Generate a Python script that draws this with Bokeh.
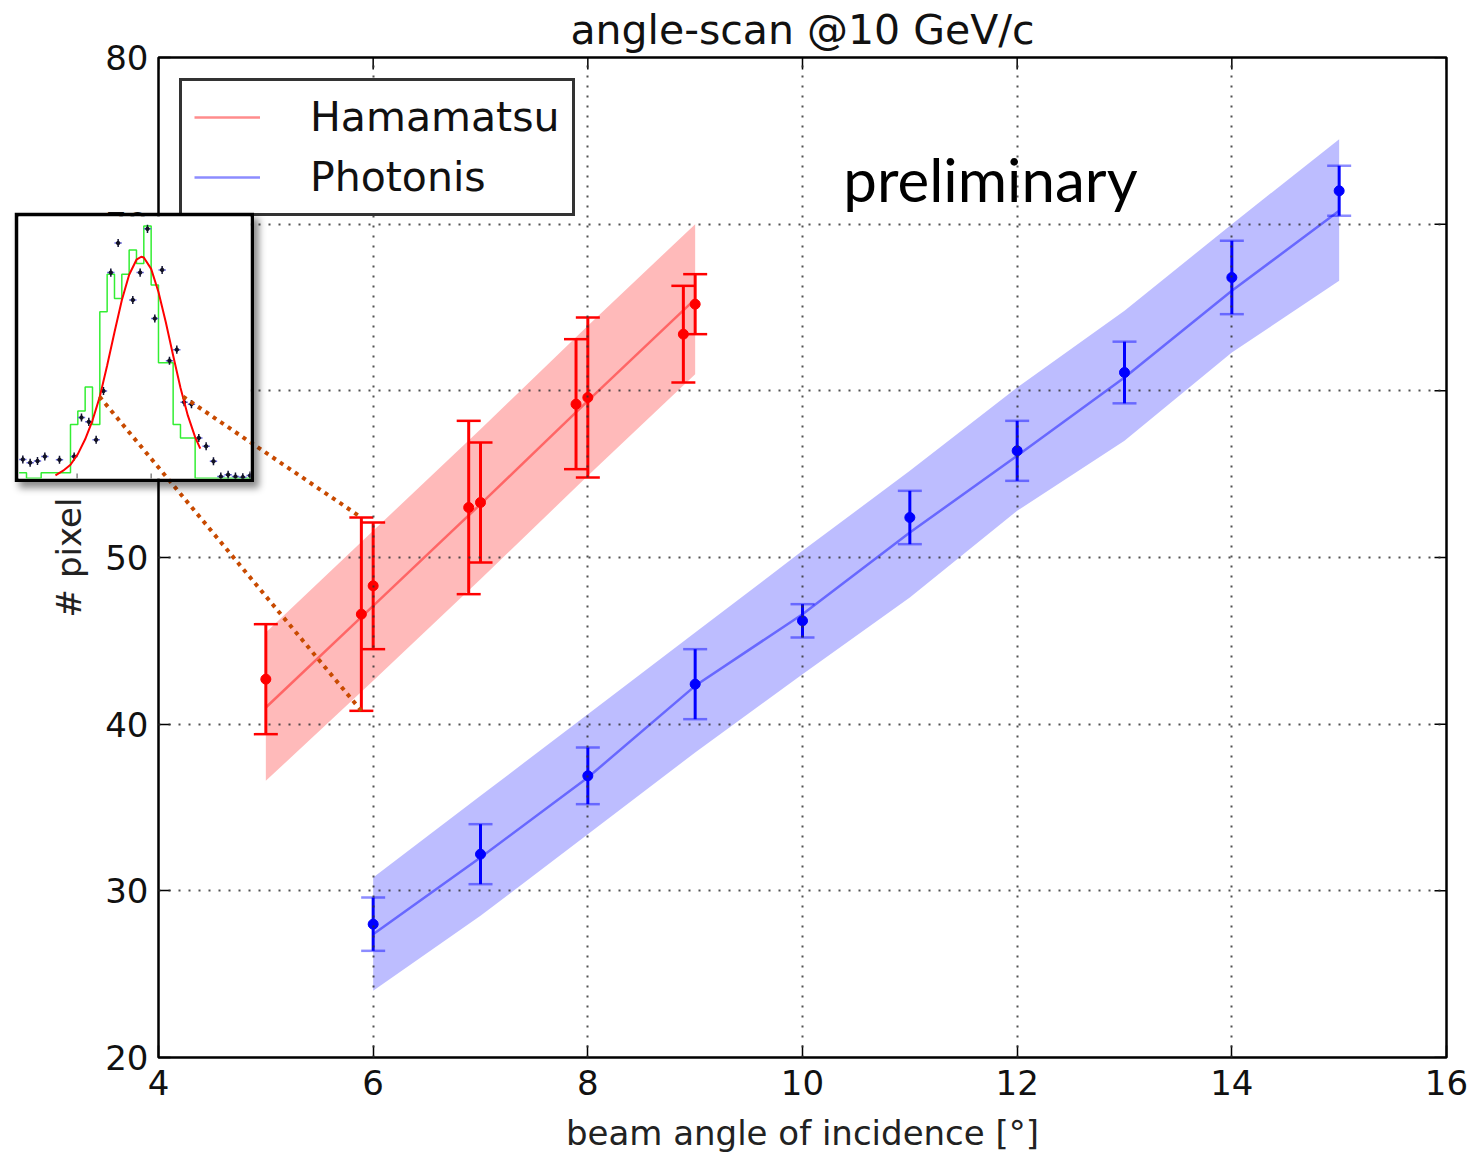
import math
from bokeh.plotting import figure
from bokeh.models import Range1d, FixedTicker, Legend, LegendItem, Label
from bokeh.embed import file_html
from bokeh.resources import INLINE

NaN = float("nan")

# ---------------- data ----------------
ham_angle = [5.0, 5.89, 6.0, 6.89, 7.0, 7.89, 8.0, 8.89, 9.0]
ham_pixels = [42.7, 46.6, 48.3, 53.0, 53.3, 59.2, 59.6, 63.4, 65.2]
ham_err = [3.3, 5.8, 3.8, 5.2, 3.6, 3.9, 4.8, 2.9, 1.8]
ham_sim_angle = [5, 6, 7, 8, 9]
ham_sim_mean = [41.0, 47.1, 53.2, 59.4, 65.5]
ham_sim_low = [36.6, 42.6, 48.7, 54.9, 61.0]
ham_sim_high = [45.5, 51.6, 57.7, 63.9, 70.0]

phot_angle = [6, 7, 8, 9, 10, 11, 12, 13, 14, 15]
phot_pixels = [28.0, 32.2, 36.9, 42.4, 46.2, 52.4, 56.4, 61.1, 66.8, 72.0]
phot_err = [1.6, 1.8, 1.7, 2.1, 1.0, 1.6, 1.8, 1.85, 2.2, 1.5]
phot_sim_angle = [6, 7, 8, 9, 10, 11, 12, 13, 14, 15]
phot_sim_mean = [27.4, 32.0, 36.8, 42.3, 46.6, 51.5, 56.1, 60.8, 66.0, 70.8]
phot_sim_low = [24.0, 28.5, 33.4, 38.3, 43.0, 47.6, 52.8, 57.0, 62.3, 66.6]
phot_sim_high = [30.8, 35.7, 40.6, 45.5, 50.4, 55.2, 60.2, 64.8, 70.0, 75.1]

x_ticks = [4, 6, 8, 10, 12, 14, 16]
y_ticks = [20, 30, 40, 50, 60, 70, 80]

# inset: pixel-count distribution for one angle
inset_bin_edges = list(range(0, 33))
inset_sim_counts = [2, 0, 0, 2, 2, 2, 2, 20, 25, 34, 20, 62, 76, 67, 76, 85, 80, 94,
                    72, 43, 43, 20, 15, 15, 0, 0, 0, 0, 0, 0, 0, 0]
inset_data_counts = [7.0, 5.8, 6.4, 8.1, NaN, 6.9, NaN, 8.1, 22.6, 21.0, 14.3, 32.5,
                     76.6, 87.6, NaN, 66.4, 76.6, 92.9, 59.5, 77.6, 43.8, 47.9, 28.3,
                     27.6, 15.0, 11.9, 6.3, 0.6, 1.3, 0.6, 0.4, 1.0]
inset_data_err = [1.5] * 32
inset_fit_x = [4.95, 6, 7, 8, 9, 10, 11, 12, 13, 14, 15, 16, 16.65, 17, 18, 19, 20,
               21, 22, 23, 24, 24.7]
inset_fit_y = [1.1, 2.8, 5.0, 9.0, 14.5, 21.5, 30.4, 42.0, 54.4, 66.3, 75.8, 81.4,
               82.5, 82.2, 78.0, 69.4, 58.1, 45.7, 33.7, 23.4, 15.3, 11.0]
inset_ticks = [7.9, 18.0]
# zoom connector: from points on the fit curve to the error-bar ends of Hamamatsu point #2
zoom_from_x = [10.95, 22.36]
zoom_from_y = [30.4, 30.4]
zoom_point = 1

# ---------------- layout geometry ----------------
W, H = 1477, 1155
FL, FR, FT, FB = 158, 1446, 57, 1057
XR = (4, 16)
YR = (20, 80)

IN_L, IN_T, IN_W, IN_H, IN_B = 14, 212, 240, 270, 4
IXR = (-0.09, 31.55)
IYR = (-0.1, 97.5)

FONT = "DejaVu Sans"

def main_to_page(x, y):
    return (FL + (x - XR[0]) / (XR[1] - XR[0]) * (FR - FL),
            FT + (YR[1] - y) / (YR[1] - YR[0]) * (FB - FT))

def page_to_main(px, py):
    return (XR[0] + (px - FL) / (FR - FL) * (XR[1] - XR[0]),
            YR[1] - (py - FT) / (FB - FT) * (YR[1] - YR[0]))

fw = IN_W - 2 * IN_B
fh = IN_H - 2 * IN_B

def inset_to_page(x, y):
    return (IN_L + IN_B + (x - IXR[0]) / (IXR[1] - IXR[0]) * fw,
            IN_T + IN_B + (IYR[1] - y) / (IYR[1] - IYR[0]) * fh)

def page_to_inset(px, py):
    return (IXR[0] + (px - IN_L - IN_B) / fw * (IXR[1] - IXR[0]),
            IYR[1] - (py - IN_T - IN_B) / fh * (IYR[1] - IYR[0]))

# ---------------- main figure ----------------
p = figure(width=W, height=H, x_range=Range1d(*XR), y_range=Range1d(*YR),
           output_backend="svg", toolbar_location=None,
           min_border_left=FL, min_border_right=W - FR,
           min_border_top=FT, min_border_bottom=H - FB,
           title="angle-scan @10 GeV/c",
           background_fill_color="white", border_fill_color="white")
p.title.align = "center"
p.title.text_font = FONT
p.title.text_font_size = "41px"
p.title.text_font_style = "normal"
p.title.text_color = "#111111"
p.title.standoff = 7

p.outline_line_color = "black"
p.outline_line_width = 2.5

for ax, tk in ((p.xaxis[0], x_ticks), (p.yaxis[0], y_ticks)):
    ax.ticker = FixedTicker(ticks=tk)
    ax.major_label_text_font = FONT
    ax.major_label_text_font_size = "34px"
    ax.major_label_text_color = "#111111"
    ax.axis_label_text_font = FONT
    ax.axis_label_text_font_size = "34px"
    ax.axis_label_text_font_style = "normal"
    ax.axis_label_text_color = "#222222"
    ax.major_tick_in = 12
    ax.major_tick_out = 0
    ax.major_tick_line_color = "black"
    ax.major_tick_line_width = 1.5
    ax.minor_tick_line_color = None
    ax.axis_line_color = None

p.xaxis.axis_label = "beam angle of incidence [°]"
p.yaxis.axis_label = "# pixel"
p.xaxis.major_label_standoff = 12
p.xaxis.axis_label_standoff = 15
p.yaxis.major_label_standoff = 10
p.yaxis.axis_label_standoff = 13

p.xgrid.ticker = FixedTicker(ticks=x_ticks)
p.ygrid.ticker = FixedTicker(ticks=y_ticks)
for g in (p.xgrid[0], p.ygrid[0]):
    g.grid_line_color = "#333333"
    g.grid_line_alpha = 0.85
    g.grid_line_width = 2
    g.grid_line_dash = "2 8"
    g.level = "guide"

# bands
p.varea(x=ham_sim_angle, y1=ham_sim_low, y2=ham_sim_high, fill_color="#ff0000", fill_alpha=0.27)
p.varea(x=phot_sim_angle, y1=phot_sim_low, y2=phot_sim_high, fill_color="#0000ff", fill_alpha=0.26)
ham_line = p.line(ham_sim_angle, ham_sim_mean, line_color="#ff0000", line_alpha=0.45, line_width=2.5)
phot_line = p.line(phot_sim_angle, phot_sim_mean, line_color="#0000ff", line_alpha=0.45, line_width=2.5)

def errbars(xs, ys, es, color, cap_alpha):
    lo = [y - e for y, e in zip(ys, es)]
    hi = [y + e for y, e in zip(ys, es)]
    p.segment(x0=xs, y0=lo, x1=xs, y1=hi, line_color=color, line_width=3)
    p.scatter(x=xs + xs, y=lo + hi, marker="dash", size=24, line_color=color,
              line_width=2.5, line_alpha=cap_alpha)
    p.scatter(x=xs, y=ys, marker="circle", size=10, fill_color=color, line_color=color)

errbars(ham_angle, ham_pixels, ham_err, "#ff0000", 1.0)
errbars(phot_angle, phot_pixels, phot_err, "#0000ff", 0.45)

# inner tick marks on the top and right frame edges (matplotlib-style box)
p.scatter(x=x_ticks, y=[YR[1]] * len(x_ticks), marker="dash", angle=math.pi / 2,
          size=24, line_color="black", line_width=1.5)
p.scatter(x=[XR[1]] * len(y_ticks), y=y_ticks, marker="dash", size=24,
          line_color="black", line_width=1.5)

legend = Legend(items=[LegendItem(label="Hamamatsu", renderers=[ham_line]),
                       LegendItem(label="Photonis", renderers=[phot_line])],
                location="top_left", margin=21, padding=12, spacing=12,
                glyph_width=66, glyph_height=40, label_height=40, label_standoff=50,
                label_text_font=FONT, label_text_font_size="41px",
                label_text_color="#111111",
                border_line_color="#333333", border_line_width=3, border_line_alpha=1.0,
                background_fill_color="white", background_fill_alpha=1.0)
p.add_layout(legend)

p.add_layout(Label(x=10.38, y=72.74, text="preliminary", text_font="Lato",
                   text_font_size="60px", text_color="black",
                   text_baseline="alphabetic", text_align="left"))

# connector lines (main part)
CONN_COLOR = "#c84a00"
tx = ham_angle[zoom_point]
targets = [(tx, ham_pixels[zoom_point] - ham_err[zoom_point]),
           (tx, ham_pixels[zoom_point] + ham_err[zoom_point])]
starts_page = [inset_to_page(x, y) for x, y in zip(zoom_from_x, zoom_from_y)]
starts_main = [page_to_main(*s) for s in starts_page]
p.segment(x0=[s[0] for s in starts_main], y0=[s[1] for s in starts_main],
          x1=[t[0] for t in targets], y1=[t[1] for t in targets],
          line_color=CONN_COLOR, line_width=4, line_dash="4 5")

# ---------------- inset figure ----------------
q = figure(width=IN_W, height=IN_H, x_range=Range1d(*IXR), y_range=Range1d(*IYR),
           output_backend="svg", toolbar_location=None,
           min_border_left=IN_B, min_border_right=IN_B, min_border_top=IN_B,
           min_border_bottom=IN_B, x_axis_type=None, y_axis_type=None,
           border_fill_color="black", background_fill_color="white",
           outline_line_color=None,
           styles={"position": "absolute", "left": f"{IN_L}px", "top": f"{IN_T}px",
                   "z-index": "10", "box-shadow": "5px 6px 7px rgba(0,0,0,0.45)"})
q.grid.visible = False

q.step(x=inset_bin_edges, y=inset_sim_counts + [0], mode="after",
       line_color="#33ee33", line_width=1.5)
centers = [e + 0.5 for e in inset_bin_edges[:-1]]
q.segment(x0=[c - 0.5 for c in centers], y0=inset_data_counts,
          x1=[c + 0.5 for c in centers], y1=inset_data_counts,
          line_color="#6666dd", line_width=1.5)
q.segment(x0=centers, y0=[v - e for v, e in zip(inset_data_counts, inset_data_err)],
          x1=centers, y1=[v + e for v, e in zip(inset_data_counts, inset_data_err)],
          line_color="#111133", line_width=1.5)
q.scatter(x=centers, y=inset_data_counts, marker="circle", size=3.5,
          fill_color="#111122", line_color="#111122")
q.line(inset_fit_x, inset_fit_y, line_color="#ff0000", line_width=2)
q.scatter(x=inset_ticks, y=[IYR[0]] * len(inset_ticks), marker="dash",
          angle=math.pi / 2, size=10, line_color="#666666", line_width=1.2)

targets_inset = [page_to_inset(*main_to_page(*t)) for t in targets]
q.segment(x0=zoom_from_x, y0=zoom_from_y,
          x1=[t[0] for t in targets_inset], y1=[t[1] for t in targets_inset],
          line_color=CONN_COLOR, line_width=4, line_dash="4 5")

open("out.html", "w").write(file_html([p, q], INLINE))
